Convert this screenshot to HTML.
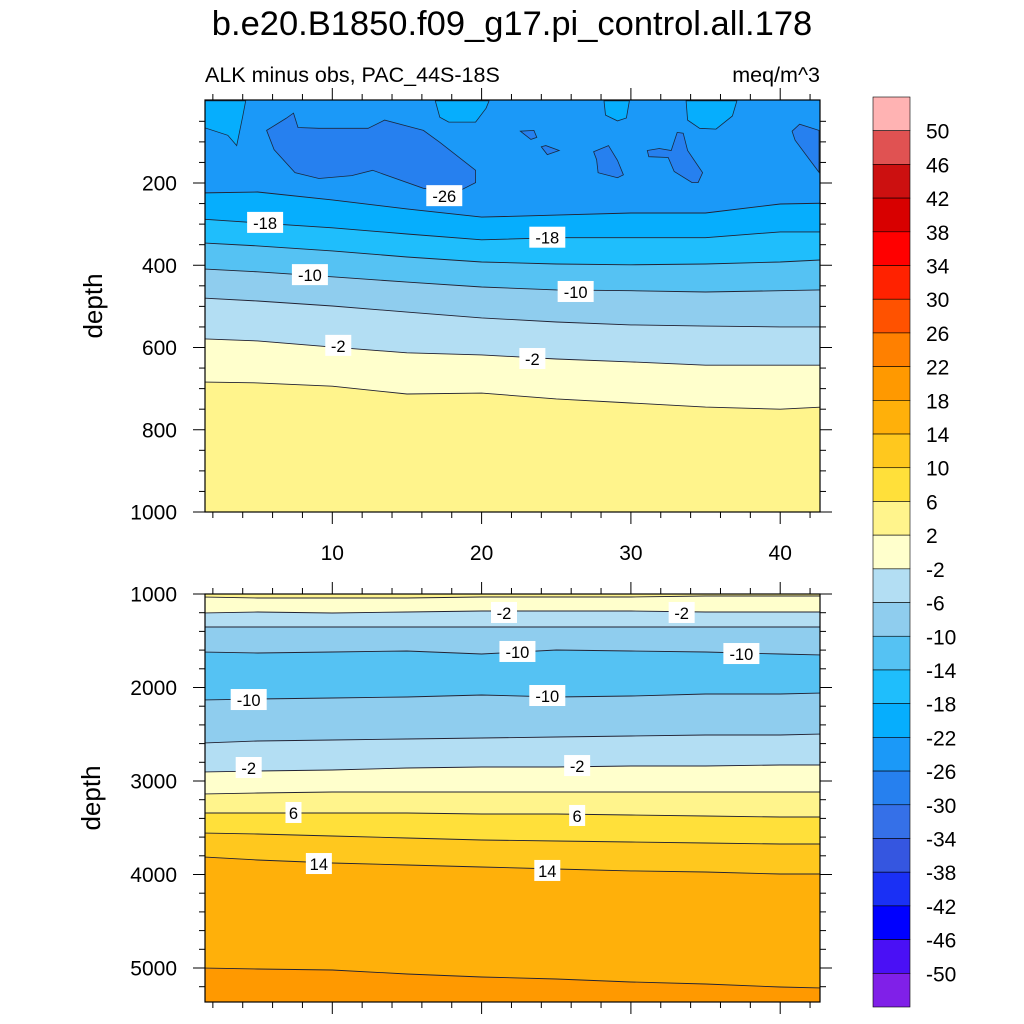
<!DOCTYPE html>
<html><head><meta charset="utf-8">
<style>
html,body{margin:0;padding:0;background:#fff;}
svg{display:block;font-family:"Liberation Sans",sans-serif;}
</style></head>
<body>
<svg id="chart" width="1024" height="1024" viewBox="0 0 1024 1024" xmlns="http://www.w3.org/2000/svg">
<text x="512" y="35" text-anchor="middle" font-size="34.5">b.e20.B1850.f09_g17.pi_control.all.178</text>
<text x="205" y="82" font-size="21.5">ALK minus obs, PAC_44S-18S</text>
<text x="820" y="82" text-anchor="end" font-size="21.5">meq/m^3</text>
<text transform="translate(102,306) rotate(-90)" text-anchor="middle" font-size="26">depth</text>
<text transform="translate(100,798) rotate(-90)" text-anchor="middle" font-size="26">depth</text>
<g id="top"></g>
<g id="bot"></g>
<g id="cbar"></g>
</svg>
<script>
// ---- data ----
const xCols = [1.5, 5, 10, 15, 20, 25, 30, 35, 40, 42.5];
const levelColors = ["#8020e8","#4a10f5","#0000ff","#1a30f5","#3556e0","#3570e8","#2680ef","#1b99f8","#06aefd","#1fbefc","#55c2f3","#8fcdee","#b3def3","#ffffcc","#fff48c","#ffe03a","#ffc81e","#ffb00a","#ff9900","#ff8000","#ff5200","#ff2200","#ff0000","#d80000","#cc1010","#e05252","#ffb3b3"];
const cbarLabels = ["50","46","42","38","34","30","26","22","18","14","10","6","2","-2","-6","-10","-14","-18","-22","-26","-30","-34","-38","-42","-46","-50"];
// top panel contour depths (m), one per xCols
const topL_m22 = [224, 222, 241, 263, 283, 278, 273, 273, 251, 249];
const topL_m18 = [288, 297, 309, 324, 338, 333, 333, 333, 319, 319];
const topL_m14 = [346, 353, 365, 380, 392, 397, 399, 397, 392, 387];
const topL_m10 = [409, 416, 428, 441, 453, 460, 462, 465, 462, 460];
const topL_m6 = [480, 487, 499, 514, 528, 538, 545, 548, 550, 550];
const topL_m2 = [579, 584, 599, 613, 618, 628, 635, 643, 643, 643];
const topL_p2 = [684, 686, 694, 713, 711, 725, 735, 745, 750, 745];
const topBandBelow = [-22, -18, -14, -10, -6, -2, 2];
// bottom panel contour depths
const botLineBelowVals = [-2, -6, -10, -14, -10, -6, -2, 2, 6, 10, 14, 18];
const botL_1 = [1032, 1043, 1043, 1043, 1032, 1032, 1032, 1021, 1021, 1021];
const botL_2 = [1203, 1193, 1203, 1193, 1182, 1182, 1182, 1193, 1193, 1193];
const botL_3 = [1353, 1353, 1353, 1353, 1353, 1353, 1353, 1353, 1353, 1353];
const botL_4 = [1620, 1631, 1620, 1610, 1642, 1599, 1610, 1620, 1642, 1652];
const botL_5 = [2134, 2123, 2112, 2102, 2080, 2102, 2091, 2070, 2070, 2059];
const botL_6 = [2594, 2572, 2561, 2551, 2540, 2529, 2519, 2508, 2508, 2497];
const botL_7 = [2904, 2893, 2882, 2861, 2850, 2850, 2840, 2840, 2829, 2829];
const botL_8 = [3139, 3128, 3118, 3118, 3118, 3118, 3118, 3118, 3118, 3118];
const botL_9 = [3342, 3342, 3342, 3342, 3353, 3353, 3364, 3374, 3385, 3385];
const botL_10 = [3556, 3567, 3588, 3610, 3631, 3642, 3652, 3663, 3674, 3674];
const botL_11 = [3813, 3845, 3877, 3898, 3920, 3941, 3962, 3973, 3995, 3995];
const botL_12 = [5000, 5011, 5021, 5064, 5096, 5118, 5150, 5171, 5203, 5214];
// top-panel patches: [x, depth] pairs
const patchDeep1 = [[5.6,72],[6.9,43],[7.4,30],[7.7,65],[9.1,67],[12.4,67],[13.5,47],[16.1,72],[17.2,101],[19.6,169],[19.6,199],[18.3,223],[16.1,213],[12.7,169],[11.3,182],[9.1,189],[7.5,175],[6.1,119]];
const patchDeep2 = [[22.6,74],[23.5,72],[23.7,89],[23.3,94]];
const patchDeep3 = [[24.0,112],[24.3,109],[25.2,121],[24.4,131]];
const patchDeep4 = [[27.5,124],[28.5,109],[29.1,145],[29.5,180],[29.1,187],[27.8,175],[27.7,143]];
const patchDeep5 = [[31.1,121],[31.9,116],[32.7,121],[33.1,77],[33.5,79],[33.8,121],[34.8,175],[34.5,199],[34.1,199],[32.9,172],[32.5,138],[31.2,136]];
const patchDeep6 = [[40.8,74],[41.3,57],[42.6,72],[42.6,174],[42.0,145],[41.0,96]];
const patchLight1 = [[1.4,0],[4.2,0],[4.0,38],[3.6,109],[3.0,84],[1.4,65]];
const patchLight2 = [[16.9,0],[17.2,40],[17.8,52],[19.6,52],[20.3,18],[20.5,0]];
const patchLight3 = [[28.2,0],[28.3,35],[29.1,49],[29.7,42],[29.9,0]];
const patchLight4 = [[33.7,0],[33.8,47],[34.6,67],[35.7,69],[36.8,37],[37.1,0]];
// contour labels: [x, depth, text]
const topLabels = [[17.5,232,"-26"],[5.5,297,"-18"],[24.4,333,"-18"],[8.5,424,"-10"],[26.3,465,"-10"],[10.4,596,"-2"],[23.4,628,"-2"]];
const botLabels = [[21.5,1203,"-2"],[33.4,1203,"-2"],[22.4,1620,"-10"],[37.4,1642,"-10"],[4.4,2134,"-10"],[24.4,2091,"-10"],[4.4,2861,"-2"],[26.4,2840,"-2"],[7.4,3342,"6"],[26.4,3374,"6"],[9.1,3888,"14"],[24.4,3962,"14"]];

// ---- axis functions ----
const X0 = 205, X1 = 820;
function xs(v){ return 183 + v * 14.93; }
function yTop(d){ return 100.75 + d * 0.41125; }
function yBot(d){ return 594 + (d - 1000) * 0.0935; }
const NS = "http://www.w3.org/2000/svg";
function mk(tag, attrs, parent){ const e = document.createElementNS(NS, tag); for (const k in attrs) e.setAttribute(k, attrs[k]); parent.appendChild(e); return e; }
function colorOf(lowVal){ return levelColors[(lowVal + 54) / 4]; }

function linePts(arr, yf){
  const p = arr.map((d,i)=>[xs(xCols[i]), yf(d)]);
  p[0][0] = X0 - 2; p[p.length-1][0] = X1 + 2;
  return p;
}
function bandBelow(arr, yf, yBottom){
  const p = linePts(arr, yf);
  return "M" + p.map(q=>q[0].toFixed(1)+","+q[1].toFixed(1)).join(" L") + " L" + (X1+2) + "," + yBottom + " L" + (X0-2) + "," + yBottom + " Z";
}
function linePath(arr, yf){ return "M" + linePts(arr, yf).map(q=>q[0].toFixed(1)+","+q[1].toFixed(1)).join(" L"); }

function drawPanel(g, yTopPx, yBotPx, yf, topColorVal, lines, belowVals, patches, labels, name){
  mk("clipPath", {id: name + "-clip"}, g);
  const cp = g.lastChild;
  mk("rect", {x: X0, y: yTopPx, width: X1 - X0, height: yBotPx - yTopPx}, cp);
  const inner = mk("g", {"clip-path": "url(#" + name + "-clip)"}, g);
  const bg = mk("rect", {x: X0, y: yTopPx, width: X1 - X0, height: yBotPx - yTopPx, fill: colorOf(topColorVal)}, inner);
  
  
  lines.forEach((arr, i) => {
    const b = mk("path", {d: bandBelow(arr, yf, yBotPx + 5), fill: colorOf(belowVals[i])}, inner);
    
    
  });
  patches.forEach((pt, i) => {
    const d = "M" + pt[1].map(q => xs(q[0]).toFixed(1) + "," + yf(q[1]).toFixed(1)).join(" L") + " Z";
    const p = mk("path", {d: d, fill: colorOf(pt[0]), stroke: "#1a2a40", "stroke-width": 0.8}, inner);
    
    
  });
  lines.forEach((arr, i) => {
    const l = mk("path", {d: linePath(arr, yf), fill: "none", stroke: "#223", "stroke-width": 0.9}, inner);
    
    
  });
  labels.forEach(lb => {
    const cx = xs(lb[0]), cy = yf(lb[1]);
    const w = lb[2].length * 10 + 6;
    const r = mk("rect", {x: cx - w/2, y: cy - 11, width: w, height: 21, fill: "#fff"}, inner);
    
    
    const t = mk("text", {x: cx, y: cy + 6, "text-anchor": "middle", "font-size": 16.5}, inner);
    t.textContent = lb[2];
    
    
  });
  const fr = mk("rect", {x: X0, y: yTopPx, width: X1 - X0, height: yBotPx - yTopPx, fill: "none", stroke: "#000", "stroke-width": 1.2}, g);
  
  
}

function xTicks(g, yTopPx, yBotPx, withLabels){
  for (let v = 2; v <= 42; v += 2){
    const x = xs(v), major = v % 10 === 0, L = major ? 12 : 6;
    mk("line", {x1: x, x2: x, y1: yBotPx, y2: yBotPx + L, stroke: "#000", "stroke-width": 1}, g);
    mk("line", {x1: x, x2: x, y1: yTopPx, y2: yTopPx - L, stroke: "#000", "stroke-width": 1}, g);
    if (major && withLabels){
      const t = mk("text", {x: x, y: yBotPx + 48, "text-anchor": "middle", "font-size": 21}, g);
      t.textContent = v;
      
      
    }
  }
}
function yTicks(g, yf, from, to, minorStep, majorStep){
  for (let d = from; d <= to; d += minorStep){
    const y = yf(d), major = d % majorStep === 0, L = major ? 12 : 6;
    mk("line", {x1: X0, x2: X0 - L, y1: y, y2: y, stroke: "#000", "stroke-width": 1}, g);
    mk("line", {x1: X1, x2: X1 + L, y1: y, y2: y, stroke: "#000", "stroke-width": 1}, g);
    if (major){
      const t = mk("text", {x: 177, y: y + 7.5, "text-anchor": "end", "font-size": 21}, g);
      t.textContent = d;
      
      
    }
  }
}

const gt = document.getElementById("top");
drawPanel(gt, 100, 512, yTop, -26, [topL_m22, topL_m18, topL_m14, topL_m10, topL_m6, topL_m2, topL_p2], topBandBelow,
  [[-30, patchDeep1],[-30, patchDeep2],[-30, patchDeep3],[-30, patchDeep4],[-30, patchDeep5],[-30, patchDeep6],
   [-22, patchLight1],[-22, patchLight2],[-22, patchLight3],[-22, patchLight4]], topLabels, "top");
xTicks(gt, 100, 512, true);
yTicks(gt, yTop, 50, 1000, 50, 200);

const gb = document.getElementById("bot");
drawPanel(gb, 594, 1002, yBot, 2, [botL_1, botL_2, botL_3, botL_4, botL_5, botL_6, botL_7, botL_8, botL_9, botL_10, botL_11, botL_12], botLineBelowVals, [], botLabels, "bottom");
xTicks(gb, 594, 1002, false);
yTicks(gb, yBot, 1000, 5200, 200, 1000);

// colorbar
const gc = document.getElementById("cbar");
const cbTop = 97, cbBot = 1007, nBox = levelColors.length, bh = (cbBot - cbTop) / nBox;
for (let i = 0; i < nBox; i++){
  const r = mk("rect", {x: 873, y: cbTop + i * bh, width: 37, height: bh, fill: levelColors[nBox - 1 - i], stroke: "#000", "stroke-width": 0.6}, gc);
  
  
}
cbarLabels.forEach((lab, i) => {
  const t = mk("text", {x: 926, y: cbTop + (i + 1) * bh + 8, "font-size": 21}, gc);
  t.textContent = lab;
  
  
});
</script>
</body></html>
